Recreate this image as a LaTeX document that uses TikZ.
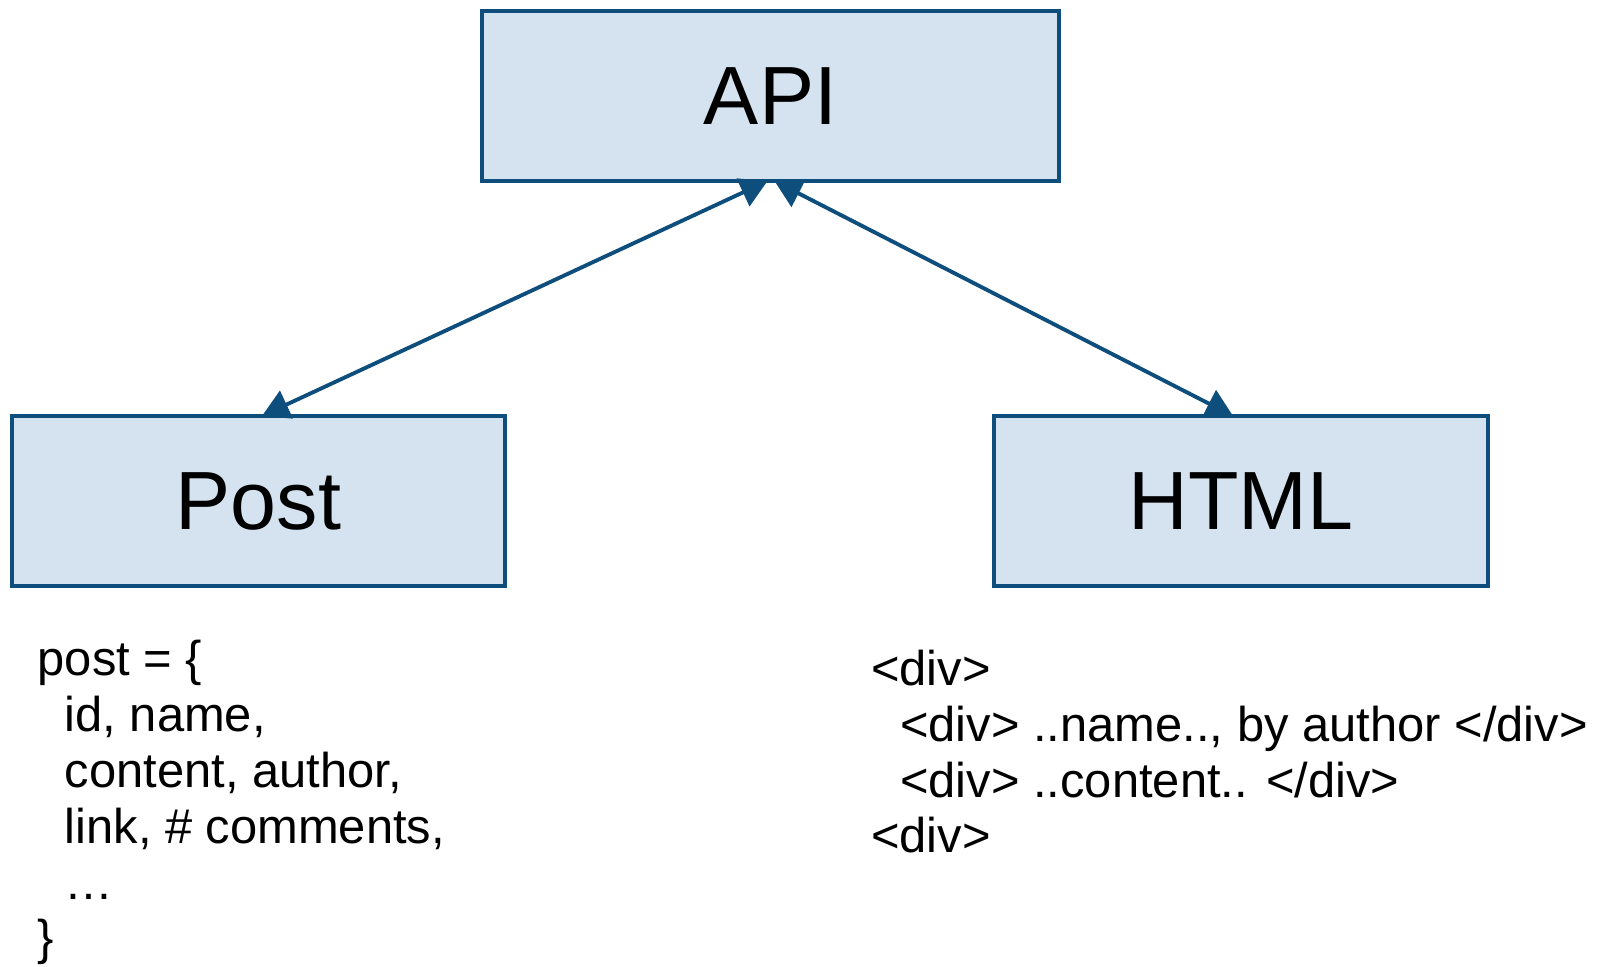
\documentclass[tikz,border=0pt]{standalone}
\usepackage{fontspec}
\setmainfont{Liberation Sans}
\usetikzlibrary{arrows.meta, positioning}
\definecolor{boxfill}{RGB}{213,227,241}
\definecolor{boxline}{RGB}{14,78,124}

\begin{document}
\begin{tikzpicture}[
	x=0.01cm, y=-0.01cm,
	every node/.style={font=\fontsize{13.9}{15.9}\selectfont},
	box/.style={draw=boxline, fill=boxfill, line width=1.1pt, minimum width=4.93cm, minimum height=1.7cm, inner sep=0pt, outer sep=0pt, font=\fontsize{23.5}{28}\selectfont},
	code/.style={align=left, inner sep=0pt, anchor=base west},
	arrow/.style={{Triangle[length=0.27cm, width=0.3cm]}-{Triangle[length=0.27cm, width=0.3cm]}, draw=boxline, line width=1.1pt},
	]
	
	\useasboundingbox (0,0) rectangle (1602,967);
	
	\node[box, minimum width=5.77cm] (api) at (770.5,96) {API};
	\node[box] (post) at (258.5,501) {Post};
	\node[box] (html) at (1241,501) {HTML};
	
	\node[code] (postdata) at (37,955) {post = \{\\
		\hspace*{0.27cm}id, name,\\
		\hspace*{0.27cm}content, author,\\
		\hspace*{0.27cm}link, \# comments,\\
		\hspace*{0.27cm}\dots\\
		\}};
	
	\node[code] (markup) at (870.5,853) {<div>\\
		\hspace*{0.29cm}<div> ..name.., by author </div>\\
		\hspace*{0.29cm}<div> ..content.. </div>\\
		<div>};
	
	\draw[arrow] ([xshift=0.035cm]post.north) -- ([xshift=-0.03cm]api.south);
	\draw[arrow] ([xshift=0.04cm]api.south) -- ([xshift=-0.08cm]html.north);
	
\end{tikzpicture}
\end{document}
